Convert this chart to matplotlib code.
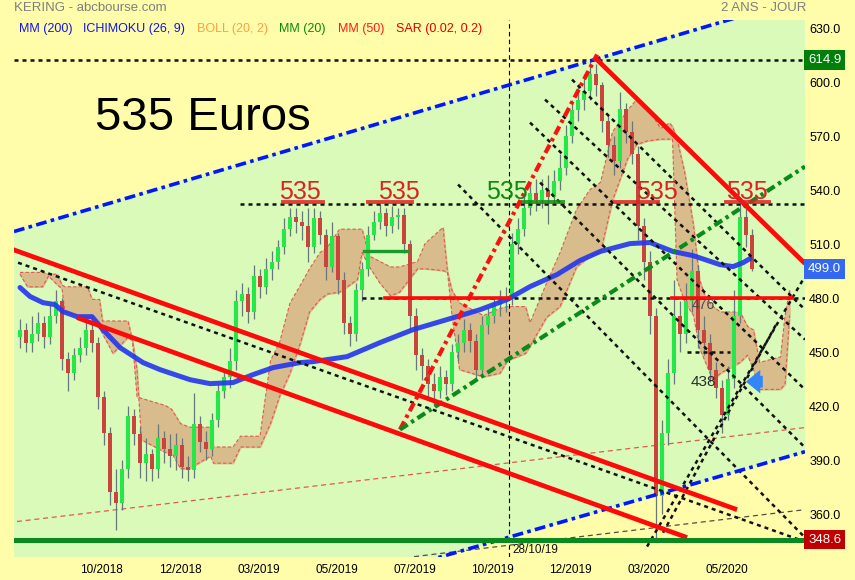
import matplotlib
matplotlib.use("Agg")
import matplotlib.pyplot as plt
from matplotlib.transforms import blended_transform_factory
from matplotlib.patches import FancyArrowPatch

plt.rcParams['font.family'] = ['Liberation Sans', 'DejaVu Sans']

# x axis counted in trading sessions from the left edge of the chart
X_MAX = 527.3
Y_MIN, Y_MAX = 338.9, 637.2

# candles, one every 4 sessions
candle_start = 4
candle_step = 4
first_open = 461
closes = [465, 458, 463, 469, 461, 473, 481, 449, 441, 451, 455, 465, 458, 428, 408, 375, 369, 388, 417, 407,
          391, 396, 388, 405, 399, 395, 401, 389, 387, 413, 403, 399, 415, 431, 439, 448, 481, 485, 475, 495,
          489, 499, 503, 511, 521, 528, 525, 523, 511, 527, 518, 500, 517, 493, 469, 463, 487, 499, 518, 525,
          530, 523, 528, 529, 513, 473, 451, 445, 435, 431, 439, 435, 453, 458, 465, 459, 443, 468, 473, 479,
          481, 483, 513, 521, 533, 541, 537, 543, 539, 548, 555, 573, 587, 593, 598, 607, 601, 581, 568, 559,
          588, 575, 563, 523, 503, 473, 373, 408, 441, 473, 463, 481, 498, 465, 458, 443, 433, 418, 438, 473,
          528, 518, 499]
highs = [471, 469, 473, 475, 473, 479, 487, 483, 453, 455, 461, 470, 469, 461, 431, 411, 388, 393, 423, 421,
         411, 405, 399, 413, 409, 407, 408, 405, 395, 430, 417, 409, 419, 435, 443, 455, 487, 491, 489, 501,
         499, 505, 509, 515, 527, 533, 533, 531, 533, 533, 531, 521, 525, 519, 497, 473, 491, 503, 523, 531,
         535, 533, 534, 533, 533, 515, 477, 455, 449, 441, 445, 443, 457, 463, 471, 469, 463, 473, 477, 483,
         487, 489, 519, 527, 539, 547, 549, 549, 551, 554, 563, 579, 593, 601, 607, 614.9, 613, 603, 585, 573,
         597, 591, 581, 567, 527, 509, 477, 415, 449, 493, 481, 491, 510, 501, 473, 463, 447, 437, 445, 487,
         536, 533, 521]
lows = [455, 453, 453, 459, 455, 457, 469, 443, 431, 437, 447, 451, 453, 421, 401, 368, 354, 365, 383, 401,
        383, 381, 381, 383, 391, 389, 387, 383, 381, 383, 397, 393, 395, 411, 427, 433, 443, 473, 469, 471,
        483, 485, 493, 499, 507, 517, 519, 515, 503, 508, 513, 493, 497, 485, 463, 456, 459, 481, 495, 515,
        521, 517, 519, 521, 508, 465, 443, 437, 427, 423, 427, 429, 431, 448, 453, 453, 437, 439, 463, 469,
        473, 475, 479, 507, 517, 529, 531, 533, 524, 535, 543, 551, 569, 581, 587, 593, 595, 575, 561, 551,
        555, 569, 557, 515, 493, 463, 348.6, 363, 401, 435, 453, 458, 475, 455, 451, 436, 427, 408, 415, 433,
        469, 511, 498]

# MM (200)
mm200_x = [4, 10.7, 19.3, 27.3, 32.7, 42, 52, 59.3, 70.7, 86, 97.3, 117.3, 130.7, 146, 159.3, 172.7, 190.7,
           199.3, 222, 244, 266, 288.7, 310.7, 328.7, 344, 362, 377.3, 390.7, 410.7, 424, 439.3, 452.7,
           470.7, 479.3, 486, 490.7]
mm200_y = [488.6, 483.6, 480.2, 479.1, 475.2, 472.4, 472.4, 465.2, 455.2, 446.9, 443, 437.4, 435.2, 435.8,
           440.2, 444.1, 446.9, 447.4, 450.2, 458, 465.2, 470.8, 476.3, 481.9, 489.1, 495.8, 503.6, 508.6,
           513, 513.6, 508.6, 506.3, 501.3, 500.2, 502.4, 504.7]

# ichimoku cloud, two spans
cloud_x = [4, 9, 19, 23, 29, 32, 34, 49, 52, 57, 59, 66, 76, 79, 82, 85, 101, 105, 111, 117, 131, 133, 146,
           151, 164, 171, 177, 184, 191, 197, 204, 209, 217, 229, 232, 237, 244, 251, 257, 269, 274, 286, 289,
           292, 297, 313, 324, 329, 341, 344, 355, 364, 375, 384, 391, 399, 409, 415, 422, 431, 437, 439, 442,
           447, 453, 457, 461, 466, 471, 484, 489, 493, 497, 511, 514, 517]
cloud_a = [497, 497, 497, 496, 496, 490, 489, 489, 482, 482, 470, 470, 470, 459, 428, 427, 423, 421, 413, 411,
           411, 400, 400, 406, 406, 448, 458, 480, 490, 499, 508, 511, 521, 521, 521, 506, 503, 500, 500, 503,
           513, 522, 497, 487, 480, 473, 477, 478, 478, 469, 491, 508, 532, 543, 547, 575, 587, 593, 589, 577,
           580, 578, 571, 553, 523, 493, 483, 478, 475, 475, 467, 465, 447, 450, 473, 487]
cloud_b = [496, 489, 489, 495, 490, 488, 475, 472, 472, 466, 463, 452, 461, 459, 443, 404, 397, 397, 388, 388,
           395, 391, 391, 400, 400, 413, 428, 441, 458, 475, 482, 485, 486, 493, 508, 500, 491, 484, 486, 499,
           499, 498, 497, 473, 443, 439, 441, 448, 452, 456, 472, 478, 500, 506, 508, 537, 560, 568, 570, 571,
           571, 571, 493, 481, 473, 455, 447, 437, 441, 447, 451, 443, 432, 432, 435, 473]

# blue channel (dash-dot), green area between the two lines
channel_x = [0, 527.3]
channel_low = [270.5, 397.4]
channel_high = [519.7, 649.8]

# thick red trend lines
red_lines = [[(-0.7, 509.7), (482, 365.2)],
             [(42, 471.9), (448.7, 349.7)],
             [(387.3, 616.3), (527.3, 501.9)]]
red_levels = [(247.3, 330.7, 483), (438.7, 518.7, 483)]
red_dashdot = [(257.3, 409.7), (388.7, 618)]
green_dashdot = [(257.3, 409.7), (527.3, 555.8)]

# black dotted lines
dotted_levels = [(0, 527.3, 614.9), (150.7, 527.3, 535), (232, 527.3, 483), (448.7, 477.3, 453)]
dotted_lines = [[(2.7, 502.4), (527.3, 347.4)],
                [(296, 545.8), (527.3, 349.7)],
                [(344, 580.2), (527.3, 431.9)],
                [(350.7, 546.9), (527.3, 399.7)],
                [(354, 593), (527.3, 459.7)],
                [(372, 604.1), (527.3, 476.3)],
                [(422, 344.7), (526, 493)],
                [(432.7, 352.4), (508.7, 469.1)]]
thin_red = [(2, 358.6), (527.3, 410.8)]
thin_dark = [(266.7, 339.1), (527.3, 365.2)]
date_line_x = 330
support = 348.6
green_level = (233.3, 262, 509.1)

# "535" marks: text x, bar start, bar end, colour
marks_x = [190.7, 256.7, 328.7, 428.7, 488.7]
marks_bar = [(179.3, 206), (236, 265.3), (339.3, 366), (400.7, 429.3), (474.7, 503.3)]
marks_col = ['#DD2222', '#DD2222', '#118811', '#DD2222', '#DD2222']
mark_level = 536

tick_pos = [58, 111, 163, 215, 267, 319, 371, 423, 475]
tick_lab = ['10/2018', '12/2018', '03/2019', '05/2019', '07/2019', '10/2019', '12/2019', '03/2020', '05/2020']
y_ticks = [360, 390, 420, 450, 480, 510, 540, 570, 600, 630]

YELLOW = '#FFFCAA'
GREEN_BG = '#D9FAB9'

fig = plt.figure(figsize=(8.55, 5.8), dpi=100, facecolor=YELLOW)
ax = fig.add_axes([14 / 855, 23 / 580, 791 / 855, 537 / 580])
ax.set_facecolor(YELLOW)
ax.set_xlim(0, X_MAX)
ax.set_ylim(Y_MIN, Y_MAX)
for sp in ax.spines.values():
    sp.set_visible(False)

ax.fill_between(channel_x, channel_low, channel_high, color=GREEN_BG, zorder=0)

# cloud
ax.fill_between(cloud_x, cloud_a, cloud_b, color='#D8BC8C', zorder=1)
ax.plot(cloud_x, cloud_a, color='#E05A50', lw=0.8, ls=(0, (3, 2)), zorder=1.1)
ax.plot(cloud_x, cloud_b, color='#E05A50', lw=0.8, ls=(0, (3, 2)), zorder=1.1)

# thin helper lines
ax.plot(*zip(*thin_red), color='#E05A50', lw=0.9, ls=(0, (4, 3)), zorder=1.2)
ax.plot(*zip(*thin_dark), color='#505040', lw=0.9, ls=(0, (4, 3)), zorder=1.2)
ax.axvline(date_line_x, color='black', lw=0.8, ls=(0, (4, 3)), zorder=1.2)

# candles
opens = [first_open] + closes[:-1]
xs = [candle_start + candle_step * i for i in range(len(closes))]
ax.vlines(xs, lows, highs, color='#66787A', lw=0.9, zorder=2)
for x, o, c in zip(xs, opens, closes):
    col = '#22E84A' if c >= o else '#C8443C'
    ax.bar(x, max(abs(c - o), 0.8), bottom=min(o, c), width=2.4, color=col, zorder=2.1)

# MM200
ax.plot(mm200_x, mm200_y, color='#2436EE', lw=3.6, alpha=0.9, solid_capstyle='round', zorder=3)

# dotted levels and lines
dot = dict(color='#111111', lw=1.8, ls=(0, (1.6, 1.6)), zorder=4)
for x0, x1, lev in dotted_levels:
    ax.plot([x0, x1], [lev, lev], **dot)
for p0, p1 in dotted_lines:
    ax.plot([p0[0], p1[0]], [p0[1], p1[1]], **dot)

# channel lines
ax.plot(channel_x, channel_high, color='#0018FF', lw=2.6, ls=(0, (3, 1.2, 1, 1.2)), zorder=4)
ax.plot(channel_x, channel_low, color='#0018FF', lw=2.6, ls=(0, (3, 1.2, 1, 1.2)), zorder=4)

ax.plot(*zip(*red_dashdot), color='#FF1010', lw=3, ls=(0, (2.2, 1, 0.8, 1)), zorder=4.5)
ax.plot(*zip(*green_dashdot), color='#0A8A1A', lw=3, ls=(0, (2.2, 1, 0.8, 1)), zorder=4.5)

for p0, p1 in red_lines:
    ax.plot([p0[0], p1[0]], [p0[1], p1[1]], color='#FF0A0A', lw=3.4, solid_capstyle='butt', zorder=5)
for x0, x1, lev in red_levels:
    ax.plot([x0, x1], [lev, lev], color='#FF0A0A', lw=2.6, zorder=5)
ax.plot(green_level[:2], [green_level[2]] * 2, color='#1A9A2A', lw=2.4, zorder=5)

ax.axhline(support, color='#0A8A1E', lw=3.6, zorder=5)

# 535 marks
for tx, (b0, b1), col in zip(marks_x, marks_bar, marks_col):
    ax.plot([b0, b1], [mark_level, mark_level], color=col, lw=2.8, alpha=0.85, zorder=6)
    ax.text(tx, mark_level + 1.6, '535', color=col, fontsize=18, ha='center', va='baseline', zorder=6)

ax.text(54, 576.3, '535 Euros', fontsize=34, color='black', va='baseline', zorder=7)
ax.text(459.3, 479, '476', fontsize=10, color='#4A4A4A', ha='center', va='center', zorder=6)
ax.text(459.3, 436.3, '438', fontsize=11, color='#2A2A2A', ha='center', va='center', zorder=6)
ax.text(332, 343, '28/10/19', fontsize=8.5, color='#111111', ha='left', va='center', zorder=6)

arrow = FancyArrowPatch((501, 436.3), (486, 436.3),
                        arrowstyle='simple,head_length=0.8,head_width=1.3,tail_width=0.65',
                        mutation_scale=13, color='#3386F8', lw=0, zorder=7)
ax.add_patch(arrow)

# axes
ax.set_xticks(tick_pos)
ax.set_xticklabels(tick_lab, fontsize=8.5)
ax.tick_params(axis='x', length=0, pad=5)
ax.yaxis.tick_right()
ax.set_yticks(y_ticks)
ax.set_yticklabels(['%.1f' % v for v in y_ticks], fontsize=9)
ax.tick_params(axis='y', length=0, pad=3)
for lab in ax.get_yticklabels():
    lab.set_verticalalignment('baseline')

tr = blended_transform_factory(ax.transAxes, ax.transData)
for val, fc in [(614.9, '#00800A'), (499.0, '#3468F0'), (348.6, '#C00000')]:
    ax.text(1.004, val, '%.1f' % val, transform=tr, color='white', fontsize=9.5, va='center', ha='left',
            bbox=dict(boxstyle='square,pad=0.3', fc=fc, ec='none'), clip_on=False, zorder=8)

# header
fig.text(14 / 855, 1 - 8 / 580, 'KERING - abcbourse.com', color='#7F7F7F', fontsize=9.5, va='center')
fig.text(806 / 855, 1 - 8 / 580, '2 ANS - JOUR', color='#7F7F7F', fontsize=9.5, va='center', ha='right')
legend = [(19, 'MM (200)', '#1414E6'), (83, 'ICHIMOKU (26, 9)', '#1414E6'), (197, 'BOLL (20, 2)', '#FFA040'),
          (279, 'MM (20)', '#0A8A0A'), (338, 'MM (50)', '#FF1A1A'), (396, 'SAR (0.02, 0.2)', '#E00000')]
for px, label, col in legend:
    fig.text(px / 855, 1 - 29 / 580, label, color=col, fontsize=9, va='center')

fig.savefig('out.png', dpi=100, facecolor=YELLOW)
